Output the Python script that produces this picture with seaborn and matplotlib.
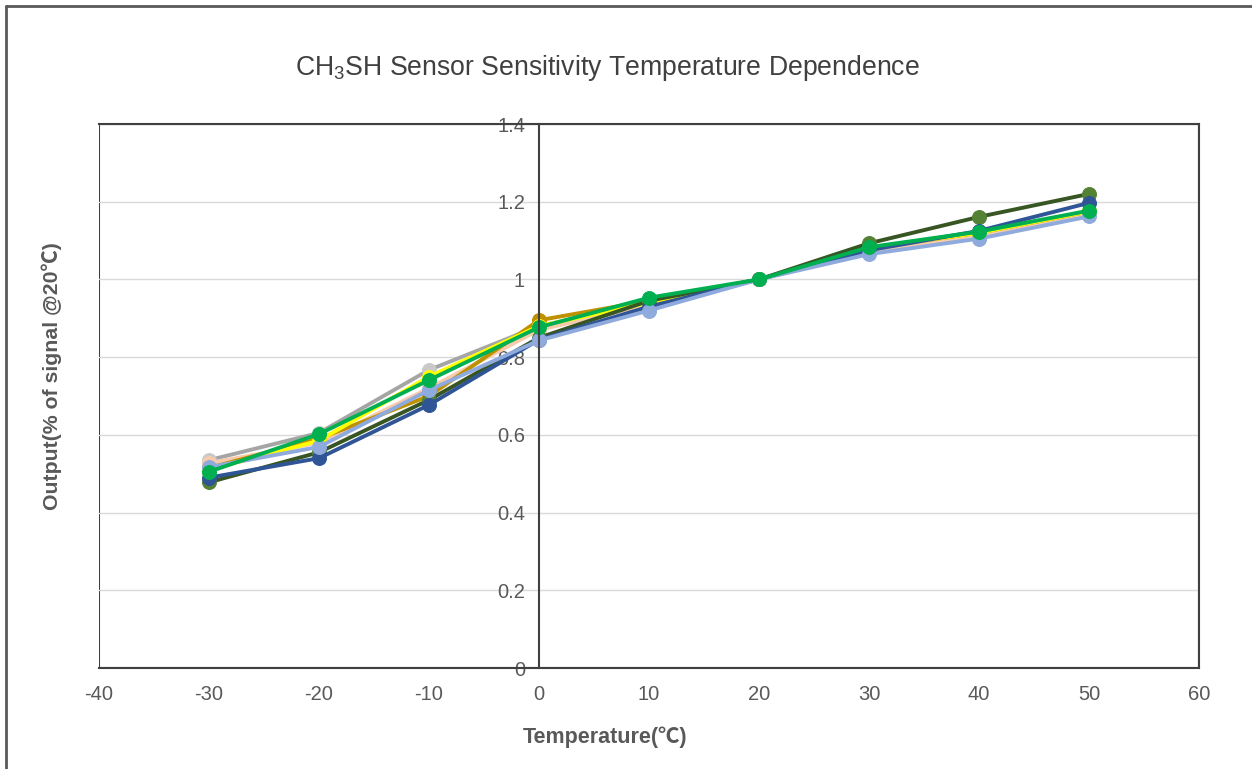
import numpy as np
import pandas as pd
import matplotlib
matplotlib.use("Agg")
import matplotlib.pyplot as plt
import seaborn as sns
from matplotlib.lines import Line2D

temps = [-30, -20, -10, 0, 10, 20, 30, 40, 50]

# one list per sensor
s_gray = [0.535, 0.605, 0.767, 0.880, 0.940, 1.0, 1.080, 1.120, 1.170]
s_peach = [0.527, 0.580, 0.720, 0.870, 0.935, 1.0, 1.070, 1.110, 1.165]
s_gold = [0.515, 0.590, 0.700, 0.895, 0.945, 1.0, 1.080, 1.120, 1.175]
s_yellow = [0.510, 0.585, 0.750, 0.880, 0.940, 1.0, 1.080, 1.120, 1.175]
s_dgreen = [0.478, 0.555, 0.690, 0.850, 0.945, 1.0, 1.093, 1.161, 1.220]
s_dblue = [0.490, 0.540, 0.677, 0.845, 0.930, 1.0, 1.075, 1.125, 1.197]
s_lblue = [0.517, 0.569, 0.715, 0.843, 0.920, 1.0, 1.065, 1.105, 1.162]
s_green = [0.505, 0.602, 0.741, 0.877, 0.953, 1.0, 1.083, 1.123, 1.177]

series = [
    ("gray", s_gray, "#A5A5A5", "#C9C9C9"),
    ("peach", s_peach, "#F8CBAD", "#F8CBAD"),
    ("gold", s_gold, "#BF9000", "#BF9000"),
    ("yellow", s_yellow, "#FFFF00", "#FFFF00"),
    ("dark green", s_dgreen, "#375623", "#548235"),
    ("dark blue", s_dblue, "#2F5597", "#2F5597"),
    ("light blue", s_lblue, "#8FAADC", "#8FAADC"),
    ("green", s_green, "#00B050", "#00B050"),
]

sns.set_style("white")
plt.rcParams['font.family'] = ['Liberation Sans', 'Noto Sans CJK SC', 'DejaVu Sans']
plt.rcParams['mathtext.fontset'] = 'custom'
plt.rcParams['mathtext.rm'] = 'Liberation Sans'
plt.rcParams['mathtext.it'] = 'Liberation Sans'
plt.rcParams['axes.unicode_minus'] = False

fig = plt.figure(figsize=(12.52, 7.69), dpi=100)
ax = fig.add_axes([99 / 1252, 101 / 769, 1100 / 1252, 544 / 769])

for name, vals, lc, mc in series:
    df = pd.DataFrame({"temp": temps, "out": vals})
    sns.lineplot(data=df, x="temp", y="out", ax=ax, color=lc, linewidth=2.8,
                 marker="o", markersize=10, markerfacecolor=mc,
                 markeredgecolor=mc, legend=False)

ax.set_xlim(-40, 60)
ax.set_ylim(0, 1.4)
ax.set_xticks(range(-40, 61, 10))
ax.set_yticks([0, 0.2, 0.4, 0.6, 0.8, 1.0, 1.2, 1.4])
ax.set_yticklabels(["0", "0.2", "0.4", "0.6", "0.8", "1", "1.2", "1.4"])
ax.grid(axis="y", color="#D9D9D9", linewidth=1)
ax.set_axisbelow(True)

for side in ["top", "right", "bottom", "left"]:
    ax.spines[side].set_visible(True)
    ax.spines[side].set_color("#404040")
    ax.spines[side].set_linewidth(1.5)
ax.spines["left"].set_position(("data", 0))
ax.add_patch(plt.Rectangle((0, 0), 1, 1, transform=ax.transAxes, fill=False,
                           edgecolor="#404040", linewidth=1.5, zorder=0.5))

ax.tick_params(axis="x", direction="in", length=7, width=1.5, color="#404040",
               labelsize=14.5, labelcolor="#595959", pad=12)
ax.tick_params(axis="y", direction="in", length=6, width=1.5, color="#404040",
               labelsize=14.5, labelcolor="#595959", pad=10)

ax.set_xlabel("")
ax.set_ylabel("")
fig.text(605 / 1252, 1 - 737 / 769, "Temperature(℃)", ha="center", va="center",
         fontsize=15.5, fontweight="bold", color="#595959")
fig.text(52 / 1252, 1 - 376 / 769, "Output(% of signal @20℃)", rotation=90,
         ha="center", va="center", fontsize=15.3, fontweight="bold", color="#595959")

fig.text(607 / 1252, 1 - 68 / 769, "CH$_3$SH Sensor Sensitivity Temperature Dependence",
         ha="center", va="center", fontsize=19.2, color="#404040")

# outer frame, only top and left show in the picture
fig.add_artist(Line2D([6 / 1252, 1], [1 - 6 / 769, 1 - 6 / 769],
                      transform=fig.transFigure, color="#595959", linewidth=2))
fig.add_artist(Line2D([6 / 1252, 6 / 1252], [0, 1 - 6 / 769],
                      transform=fig.transFigure, color="#595959", linewidth=2))

fig.savefig("out.png", dpi=100)
